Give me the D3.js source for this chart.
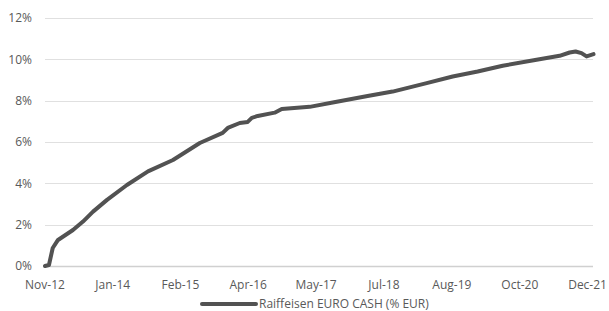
<!DOCTYPE html>
<html>
<head>
<meta charset="utf-8">
<script src="https://cdn.jsdelivr.net/npm/d3@7"></script>
<style>
  body { margin: 0; background: #fff; }
  text { font-family: "Open Sans", sans-serif; fill: #595959; }
</style>
</head>
<body>
<div id="chart"></div>
<script>
// values (cumulative return, %)
const dates = [
  "2012-11-15", "2012-12-09", "2013-01-01", "2013-02-02", "2013-05-04",
  "2013-07-04", "2013-09-03", "2013-11-27", "2014-03-28", "2014-08-03",
  "2015-01-02", "2015-06-14", "2015-10-31", "2015-12-01", "2016-02-12",
  "2016-03-31", "2016-04-25", "2016-05-31", "2016-09-11", "2016-10-24",
  "2017-04-12", "2017-08-30", "2018-03-30", "2018-08-29", "2019-03-24",
  "2019-08-29", "2020-01-28", "2020-06-28", "2021-01-20", "2021-06-09",
  "2021-08-09", "2021-09-14", "2021-10-20", "2021-11-20", "2022-01-01"
]
const values = [
  0.0, 0.05, 0.87, 1.26, 1.74,
  2.15, 2.63, 3.2, 3.92, 4.58,
  5.13, 5.95, 6.44, 6.68, 6.92,
  6.97, 7.17, 7.26, 7.42, 7.6,
  7.7, 7.91, 8.23, 8.44, 8.85,
  9.17, 9.41, 9.69, 9.98, 10.17,
  10.33, 10.38, 10.3, 10.14, 10.25
]
const tickDates = [
  "2012-11-15", "2014-01-01", "2015-02-16", "2016-04-03", "2017-05-21",
  "2018-07-07", "2019-08-24", "2020-10-10", "2021-11-26"
]
const tickLabels = [
  "Nov-12", "Jan-14", "Feb-15", "Apr-16", "May-17",
  "Jul-18", "Aug-19", "Oct-20", "Dec-21"
]
const yTicks = [0, 2, 4, 6, 8, 10, 12]
const seriesName = "Raiffeisen EURO CASH (% EUR)"

const parse = d3.timeParse("%Y-%m-%d")
const data = dates.map((d, i) => ({ date: parse(d), value: values[i] }))

const W = 609, H = 311
const margin = { top: 18, right: 16, bottom: 45, left: 45 }
const width = W - margin.left - margin.right
const height = H - margin.top - margin.bottom

const svg = d3.select("#chart").append("svg")
  .attr("width", W).attr("height", H)

const g = svg.append("g")
  .attr("transform", `translate(${margin.left},${margin.top})`)

const x = d3.scaleTime()
  .domain([parse("2012-11-15"), parse("2021-12-29")])
  .range([0, width])
const y = d3.scaleLinear().domain([0, 12]).range([height, 0])

// gridlines
g.selectAll(".grid")
  .data(yTicks)
  .join("line")
  .attr("class", "grid")
  .attr("x1", 0).attr("x2", width)
  .attr("y1", (d) => Math.round(y(d)) + 0.5)
  .attr("y2", (d) => Math.round(y(d)) + 0.5)
  .attr("stroke", (d) => d == 0 ? "#d0d0d0" : "#e0e0e0")
  .attr("stroke-width", (d) => d == 0 ? 1.5 : 1)

// y labels
g.selectAll(".ylab")
  .data(yTicks)
  .join("text")
  .attr("class", "ylab")
  .attr("x", -13)
  .attr("y", (d) => y(d))
  .attr("dy", "0.35em")
  .attr("text-anchor", "end")
  .style("font-size", "12px")
  .text((d) => d + "%")

// x labels
g.selectAll(".xlab")
  .data(tickDates)
  .join("text")
  .attr("class", "xlab")
  .attr("x", (d) => x(parse(d)))
  .attr("y", height + 23)
  .attr("text-anchor", "middle")
  .style("font-size", "12px")
  .text((d, i) => tickLabels[i])

// series line
const line = d3.line()
  .x((d) => x(d.date))
  .y((d) => y(d.value))

g.append("path")
  .datum(data)
  .attr("fill", "none")
  .attr("stroke", "#525252")
  .attr("stroke-width", 4)
  .attr("stroke-linejoin", "round")
  .attr("stroke-linecap", "round")
  .attr("d", line)

// legend
const legend = svg.append("g").attr("transform", "translate(202,304)")
legend.append("line")
  .attr("x1", 0).attr("x2", 54)
  .attr("y1", 0).attr("y2", 0)
  .attr("stroke", "#525252")
  .attr("stroke-width", 4)
  .attr("stroke-linecap", "round")
legend.append("text")
  .attr("x", 57)
  .attr("y", 0)
  .attr("dy", "0.33em")
  .style("font-size", "12px")
  .text(seriesName)
</script>
</body>
</html>
